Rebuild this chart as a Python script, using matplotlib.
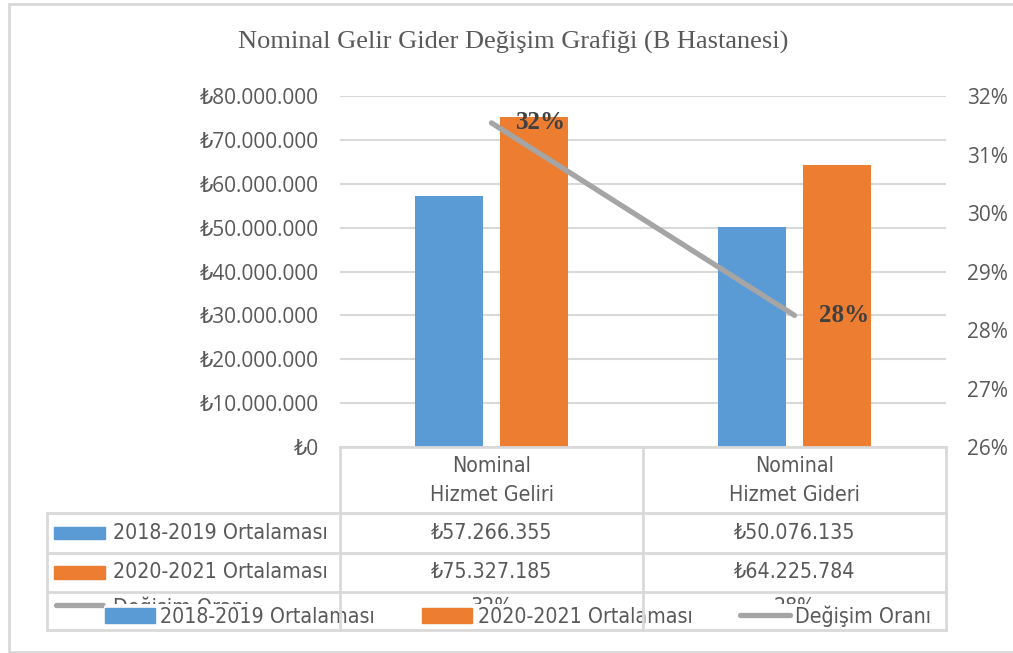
import matplotlib
matplotlib.use("Agg")
import matplotlib.pyplot as plt
from matplotlib.lines import Line2D
from matplotlib.patches import Patch, Rectangle
from matplotlib.ticker import FuncFormatter, MultipleLocator
from matplotlib.font_manager import FontProperties

# data
categories = ["Nominal\nHizmet Geliri", "Nominal\nHizmet Gideri"]
series_names = ["2018-2019 Ortalaması", "2020-2021 Ortalaması"]
avg_2018_2019 = [57266355, 50076135]
avg_2020_2021 = [75327185, 64225784]
rate_name = "Değişim Oranı"
change_rate = [0.3154, 0.2825]

BLUE = "#5B9BD5"
ORANGE = "#ED7D31"
GRAY = "#A5A5A5"
TXT = "#595959"
GRID = "#D9D9D9"

W, H = 1013, 653
SANS = ["Open Sans", "DejaVu Sans"]
TSIZE = 15.3


def narrow(size=TSIZE):
    return FontProperties(family="DejaVu Sans", stretch="condensed", size=size)


def fx(x):
    return x / W


def fy(y):
    return 1 - y / H


def tl(v):
    return "₺" + f"{v:,}".replace(",", ".")


fig = plt.figure(figsize=(W / 100, H / 100), dpi=100)

ax = fig.add_axes([fx(340), fy(447), (946 - 340) / W, (447 - 96) / H])
x = list(range(len(categories)))
bw = 0.224
off = 0.141
ax.bar([i - off for i in x], avg_2018_2019, width=bw, color=BLUE, zorder=2)
ax.bar([i + off for i in x], avg_2020_2021, width=bw, color=ORANGE, zorder=2)
ax.set_xlim(-0.5, len(categories) - 0.5)
ax.set_ylim(0, 80_000_000)
ax.yaxis.set_major_locator(MultipleLocator(10_000_000))
ax.yaxis.set_major_formatter(FuncFormatter(lambda v, p: tl(int(v))))
ax.grid(axis="y", color=GRID, lw=1.5, zorder=0)
ax.set_xticks([])
ax.tick_params(axis="y", length=0, pad=15, labelcolor=TXT, labelsize=15)
for lab in ax.get_yticklabels():
    lab.set_family(SANS)
for s in ax.spines.values():
    s.set_visible(False)

ax2 = ax.twinx()
ax2.plot(x, change_rate, color=GRAY, lw=3.8, solid_capstyle="round", zorder=3)
ax2.set_ylim(0.26, 0.32)
ax2.yaxis.set_major_locator(MultipleLocator(0.01))
ax2.yaxis.set_major_formatter(FuncFormatter(lambda v, p: f"{round(v * 100)}%"))
ax2.tick_params(axis="y", length=0, pad=15, labelcolor=TXT, labelsize=15)
for lab in ax2.get_yticklabels():
    lab.set_family(SANS)
for s in ax2.spines.values():
    s.set_visible(False)
for i, v in zip(x, change_rate):
    ax2.annotate(f"{round(v * 100)}%", (i, v), xytext=(24, 0),
                 textcoords="offset pixels", va="center", ha="left",
                 family="Liberation Serif", weight="bold", fontsize=18,
                 color="#404040", zorder=4)

# title
fig.text(fx(513), fy(42), "Nominal Gelir Gider Değişim Grafiği (B Hastanesi)",
         family="Liberation Serif", fontsize=19, color=TXT,
         ha="center", va="center")

# outer border
fig.add_artist(Rectangle((fx(9), fy(652)), fx(1030) - fx(9), fy(4) - fy(652),
                         transform=fig.transFigure, fill=False,
                         ec=GRID, lw=2))

# data table
col_x = [340, 643, 946]
centers = [(col_x[i] + col_x[i + 1]) / 2 for i in range(len(categories))]
row_y = [513, 553, 592, 630]

for cx, cat in zip(centers, categories):
    l1, l2 = cat.split("\n")
    fig.text(fx(cx), fy(466), l1, fontproperties=narrow(), color=TXT,
             ha="center", va="center")
    fig.text(fx(cx), fy(495), l2, fontproperties=narrow(), color=TXT,
             ha="center", va="center")

rows = [(series_names[0], avg_2018_2019, "bar", BLUE),
        (series_names[1], avg_2020_2021, "bar", ORANGE),
        (rate_name, change_rate, "line", GRAY)]
for r, (name, vals, kind, col) in enumerate(rows):
    yc = (row_y[r] + row_y[r + 1]) / 2
    if r == 2:
        yc -= 4
    if kind == "bar":
        fig.add_artist(Rectangle((fx(54), fy(yc + 6)), fx(105) - fx(54),
                                 fy(yc - 6) - fy(yc + 6),
                                 transform=fig.transFigure, color=col))
    else:
        fig.add_artist(Line2D([fx(56), fx(103)], [fy(yc - 2), fy(yc - 2)],
                              transform=fig.transFigure, color=col, lw=3.8,
                              solid_capstyle="round"))
    fig.text(fx(113), fy(yc), name, fontproperties=narrow(),
             color=TXT, ha="left", va="center")
    for cx, v in zip(centers, vals):
        s = tl(v) if kind == "bar" else f"{round(v * 100)}%"
        fig.text(fx(cx), fy(yc), s, fontproperties=narrow(),
                 color=TXT, ha="center", va="center")

# legend overlapping the last row, as in the reference
handles = [Patch(color=BLUE), Patch(color=ORANGE),
           Line2D([], [], color=GRAY, lw=3.8, solid_capstyle="round")]
leg = fig.legend(handles, series_names + [rate_name], loc="center",
                 bbox_to_anchor=(fx(518), fy(616)), ncol=3, frameon=True,
                 framealpha=1, facecolor="white", edgecolor="none",
                 prop=narrow(), labelcolor=TXT,
                 handlelength=2.35, handleheight=0.7, columnspacing=2.25,
                 handletextpad=0.25, borderpad=0.05)
leg.set_zorder(5)

# table grid lines
lk = dict(transform=fig.transFigure, color=GRID, lw=2, zorder=10)
fig.add_artist(Line2D([fx(340), fx(946)], [fy(447), fy(447)], **lk))
for yy in row_y:
    fig.add_artist(Line2D([fx(47), fx(946)], [fy(yy), fy(yy)], **lk))
for xx in col_x:
    fig.add_artist(Line2D([fx(xx), fx(xx)], [fy(447), fy(630)], **lk))
fig.add_artist(Line2D([fx(47), fx(47)], [fy(513), fy(630)], **lk))

fig.savefig("out.png", dpi=100, facecolor="white")
